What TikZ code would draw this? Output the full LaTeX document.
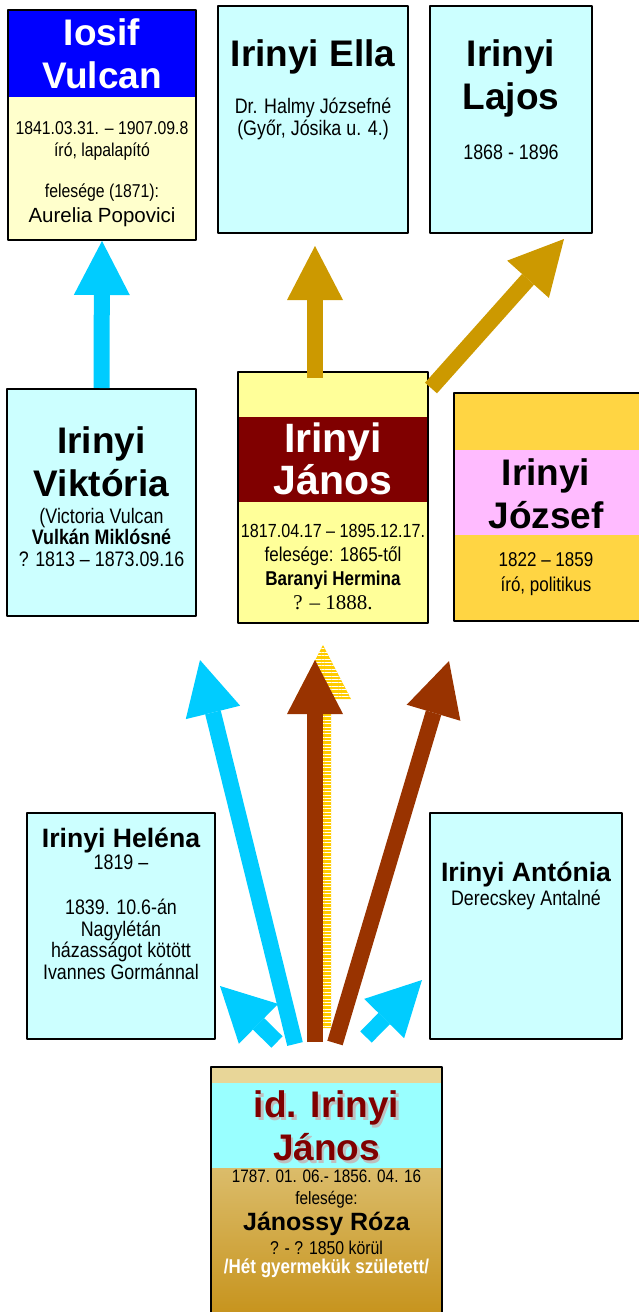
\documentclass[tikz,border=0pt]{standalone}
\usepackage{fontspec}
\setmainfont{Liberation Sans}
\newfontfamily\narrowsf[FakeStretch=0.85]{Liberation Sans}
\newfontfamily\timesrm{Liberation Serif}
\usetikzlibrary{arrows.meta,patterns.meta}

\definecolor{palecyan}{HTML}{CCFFFF}
\definecolor{paleyellow}{HTML}{FFFFCC}
\definecolor{vulcanblue}{HTML}{0000FF}
\definecolor{janosyellow}{HTML}{FFFF99}
\definecolor{janosred}{HTML}{800000}
\definecolor{jozsefgold}{HTML}{FFD543}
\definecolor{jozsefpink}{HTML}{FFBBFF}
\definecolor{idtan}{HTML}{E8D698}
\definecolor{idcyan}{HTML}{99FFFF}
\definecolor{idtop}{HTML}{E9D8A0}
\definecolor{idbottom}{HTML}{C6921A}
\definecolor{arrowblue}{HTML}{00CCFF}
\definecolor{arrowgold}{HTML}{CC9900}
\definecolor{arrowbrown}{HTML}{993300}
\definecolor{hatchyellow}{HTML}{FFCC00}

\begin{document}
\begin{tikzpicture}[
        x = 0.5pt, y = -0.5pt,
        line join=round,
        persbox/.style 2 args = {draw=black, line width=1pt, inner sep=0pt, minimum width=#1, minimum height=#2},
        band/.style n args = {3}{path picture={\fill[#1] ([yshift=-#2]path picture bounding box.north west) rectangle ([yshift=-#3]path picture bounding box.north east);}},
        title/.style = {font=\bfseries\fontsize{18.5}{21.5}\selectfont, align=center, inner sep=0pt},
        detail/.style = {font=\narrowsf\fontsize{10.5}{11}\selectfont, align=center, inner sep=0pt},
        blockarrow/.style = {line width=8pt, -{Triangle[width=28pt,length=27pt,line width=0pt]}}
    ]

    \useasboundingbox (0,0) rectangle (638,1312);

    % boxes
    \node[persbox={94pt}{115pt}, fill=paleyellow, band={vulcanblue}{0pt}{43.5pt}] (iosif) at (102,125) {};
    \node[persbox={95pt}{113.5pt}, fill=palecyan] (ella) at (313,119.5) {};
    \node[persbox={81pt}{113.5pt}, fill=palecyan] (lajos) at (511,119.5) {};
    \node[persbox={94.5pt}{113.5pt}, fill=palecyan] (viktoria) at (101.5,502.5) {};
    \node[persbox={95pt}{125.5pt}, fill=janosyellow, band={janosred}{22.5pt}{65pt}] (janos) at (333,497.5) {};
    \node[persbox={94pt}{114pt}, fill=jozsefgold, band={jozsefpink}{28.5pt}{71pt}] (jozsef) at (548,507) {};
    \node[persbox={94pt}{113pt}, fill=palecyan] (helena) at (121,926) {};
    \node[persbox={96pt}{113pt}, fill=palecyan] (antonia) at (526,926) {};
    \node[persbox={115.5pt}{126.5pt}, top color=idtop, bottom color=idbottom,
        path picture={
            \fill[idtan] (path picture bounding box.north west) rectangle ([yshift=-8pt]path picture bounding box.north east);
            \fill[idcyan] ([yshift=-8pt]path picture bounding box.north west) rectangle ([yshift=-50.5pt]path picture bounding box.north east);
        }] (idjanos) at (326.5,1193.5) {};

    % texts
    \node[title, white] (iosifName) at (102,54) {Iosif\\Vulcan};
    \node[detail, font=\narrowsf\fontsize{9.3}{11}\selectfont] (iosifData) at (102,174)
        {1841.03.31. – 1907.09.8\\író, lapalapító\\[9.5pt]felesége (1871):\\[1.5pt]{\normalfont\fontsize{10.25}{11}\selectfont Aurelia Popovici}};

    \node[title] (ellaName) at (313,57) {Irinyi Ella};
    \node[detail] (ellaData) at (313,119) {Dr. Halmy Józsefné\\(Győr, Jósika u. 4.)};

    \node[title] (lajosName) at (511,78.5) {Irinyi\\Lajos};
    \node[detail] (lajosData) at (511,152) {1868 - 1896};

    \node[title] (viktoriaName) at (101.5,461.5) {Irinyi\\Viktória};
    \node[detail, font=\narrowsf\fontsize{10.5}{10.75}\selectfont] (viktoriaData) at (101.5,537)
        {(Victoria Vulcan\\\textbf{Vulkán Miklósné}\\? 1813 – 1873.09.16};

    \node[title, white, font=\bfseries\fontsize{20.5}{21}\selectfont] (janosName) at (333,459) {Irinyi\\János};
    \node[detail, font=\narrowsf\fontsize{10}{12}\selectfont] (janosData) at (333,567.5)
        {{\fontsize{9.5}{12}\selectfont 1817.04.17 – 1895.12.17.}\\felesége: 1865-től\\\textbf{Baranyi Hermina}\\{\timesrm\fontsize{10.5}{12}\selectfont ? – 1888.}};

    \node[title] (jozsefName) at (546,493.5) {Irinyi\\József};
    \node[detail, font=\narrowsf\fontsize{10}{12.5}\selectfont] (jozsefData) at (546,574.5) {1822 – 1859\\író, politikus};

    \node[title, font=\bfseries\fontsize{13.3}{15}\selectfont] (helenaName) at (121,840) {Irinyi Heléna};
    \node[detail, font=\narrowsf\fontsize{10.5}{10.75}\selectfont] (helenaData) at (121,917)
        {1819 –\\[12pt]1839. 10.6-án\\Nagylétán\\házasságot kötött\\Ivannes Gormánnal};

    \node[title, font=\bfseries\fontsize{13.3}{15}\selectfont] (antoniaName) at (526,874) {Irinyi Antónia};
    \node[detail] (antoniaData) at (526,900) {Derecskey Antalné};

    \node[title, black!25] (idjanosShadow) at (329,1128.5) {id. Irinyi\\János};
    \node[title, janosred] (idjanosName) at (326.5,1126) {id. Irinyi\\János};
    \node[detail, font=\narrowsf\fontsize{9}{11}\selectfont] (idjanosData) at (326.5,1189) {1787. 01. 06.- 1856. 04. 16\\felesége:};
    \node[title, font=\bfseries\fontsize{12.5}{14}\selectfont] (idjanosWife) at (326.5,1224) {Jánossy Róza};
    \node[detail, font=\narrowsf\fontsize{9.3}{11}\selectfont] (idjanosWifeData) at (326.5,1248) {? - ? 1850 körül};
    \node[detail, white, font=\narrowsf\bfseries\fontsize{10}{11}\selectfont] (idjanosKids) at (326.5,1268) {/Hét gyermekük született/};

    % arrows
    \draw[blockarrow, arrowblue] (viktoria.north) -- (iosif.south);
    \draw[blockarrow, arrowgold] ([shift={(-18,7)}]janos.north) -- ([shift={(2,12)}]ella.south);
    \draw[blockarrow, arrowgold] ([shift={(2,17)}]janos.north east) -- ([shift={(-29,5)}]lajos.south east);

    \coordinate (vikTail) at ([shift={(-31.5,-22)}]idjanos.north);
    \coordinate (janTail) at ([shift={(-11.5,-24)}]idjanos.north);
    \coordinate (jozTail) at ([shift={(8.5,-23)}]idjanos.north);
    \coordinate (helTail) at ([shift={(-49.5,-24)}]idjanos.north);
    \coordinate (antTail) at ([shift={(39.5,-29)}]idjanos.north);
    \coordinate (vikTip) at (200,660);
    \coordinate (janTip) at (315,660);
    \coordinate (jozTip) at (449,661);
    \coordinate (helTip) at (220,986);
    \coordinate (antTip) at (422,980);

    \fill[hatchyellow, postaction={pattern={Lines[angle=0,distance=1.7pt,line width=0.5pt]}, pattern color=white}]
        (janTail) ++(0,-14) -- ++(16,0) -- ++(0,-329) -- ++(20,0) -- ++(-28,-54) -- ++(-28,54) -- ++(20,0) -- cycle;

    \draw[blockarrow, arrowblue] (vikTail) -- (vikTip);
    \draw[blockarrow, arrowbrown] (janTail) -- (janTip);
    \draw[blockarrow, arrowbrown] (jozTail) -- (jozTip);
    \draw[blockarrow, arrowblue] (helTail) -- (helTip);
    \draw[blockarrow, arrowblue] (antTail) -- (antTip);

\end{tikzpicture}
\end{document}
